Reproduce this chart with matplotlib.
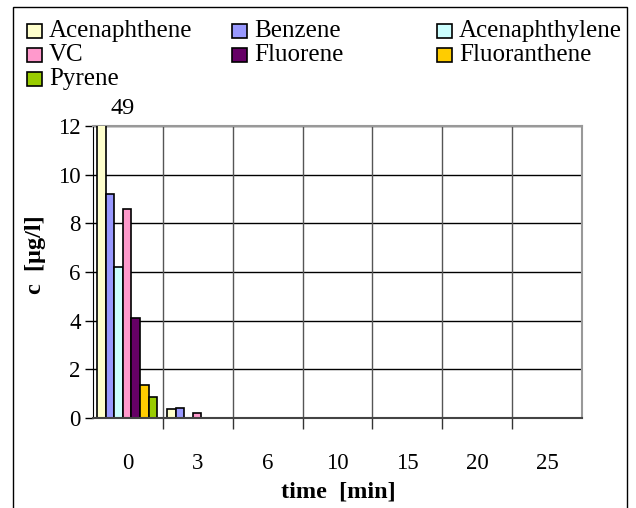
import numpy as np
import matplotlib
matplotlib.use('Agg')
import matplotlib.pyplot as plt
from matplotlib.patches import Rectangle

plt.rcParams['font.family'] = ['Liberation Serif', 'DejaVu Serif']

# data
times = ['0', '3', '6', '10', '15', '20', '25']
acenaphthene = [49, 0.35, 0, 0, 0, 0, 0]
benzene = [9.2, 0.42, 0, 0, 0, 0, 0]
acenaphthylene = [6.2, 0, 0, 0, 0, 0, 0]
vc = [8.6, 0.2, 0, 0, 0, 0, 0]
fluorene = [4.1, 0, 0, 0, 0, 0, 0]
fluoranthene = [1.35, 0, 0, 0, 0, 0, 0]
pyrene = [0.85, 0, 0, 0, 0, 0, 0]

names = ['Acenaphthene', 'Benzene', 'Acenaphthylene', 'VC', 'Fluorene',
         'Fluoranthene', 'Pyrene']
series = [acenaphthene, benzene, acenaphthylene, vc, fluorene, fluoranthene, pyrene]
colors = ['#FFFFCC', '#9999FF', '#CCFFFF', '#FF99CC', '#660066', '#FFCC00', '#99CC00']

W, H = 636, 508
fig = plt.figure(figsize=(W / 100, H / 100), dpi=100)
ax = fig.add_axes([93 / W, 1 - 418 / H, (582 - 93) / W, (418 - 126) / H])

x = np.arange(len(times))
bw = 0.122
n = len(series)
for i, (vals, c) in enumerate(zip(series, colors)):
    xs = x - n * bw / 2 + bw * (i + 0.5) - 0.01
    ax.bar(xs, vals, width=bw, color=c, edgecolor='black', linewidth=1.2, zorder=3)

ax.set_xlim(-0.5, len(times) - 0.5)
ax.set_ylim(0, 12)
ax.set_yticks(range(0, 13, 2))
ax.set_xticks(x)
ax.set_xticklabels(times)
ax.set_xticks(x[:-1] + 0.5, minor=True)
ax.tick_params(axis='x', which='major', length=0, pad=25, labelsize=16.5)
ax.tick_params(axis='x', which='minor', length=8, width=1, color='#333333',
               direction='out')
ax.tick_params(axis='y', length=6, width=1, direction='out', labelsize=16.5, pad=3)

# gridlines
for yv in range(2, 13, 2):
    ax.axhline(yv, color='black', linewidth=1, zorder=1)
for xv in x[:-1] + 0.5:
    ax.axvline(xv, color='#555555', linewidth=1, zorder=1)

ax.spines['top'].set_color('#999999')
ax.spines['right'].set_color('#999999')
ax.spines['top'].set_linewidth(1.5)
ax.spines['right'].set_linewidth(1.5)
ax.spines['left'].set_color('black')
ax.spines['bottom'].set_color('#444444')
ax.spines['bottom'].set_linewidth(1.5)
ax.spines['bottom'].set_zorder(4)

# value of the clipped bar
ax.text(-0.08, 12.3, '49', ha='center', va='bottom', fontsize=17.5, clip_on=False)

fig.text(35 / W, 1 - 255 / H, 'c  [µg/l]', rotation=90, ha='center', va='center',
         fontsize=17.5, fontweight='bold')
fig.text(338 / W, 1 - 492 / H, 'time  [min]', ha='center', va='center',
         fontsize=17.5, fontweight='bold')

# legend, drawn row by row like the original
for i, (name, c) in enumerate(zip(names, colors)):
    row, col = divmod(i, 3)
    lx = 27 + 205 * col
    ly = 31 + 24 * row
    fig.patches.append(Rectangle((lx / W, 1 - (ly + 7) / H), 15 / W, 14 / H,
                                 transform=fig.transFigure, facecolor=c,
                                 edgecolor='black', linewidth=1.2))
    fig.text((lx + 22) / W, 1 - ly / H, name, ha='left', va='center', fontsize=18)

# outer frame
fig.patches.append(Rectangle((13 / W, -0.05), (627 - 13) / W, 1.05 - 7 / H,
                             transform=fig.transFigure, fill=False,
                             edgecolor='black', linewidth=1))

fig.savefig('out.png', dpi=100)
